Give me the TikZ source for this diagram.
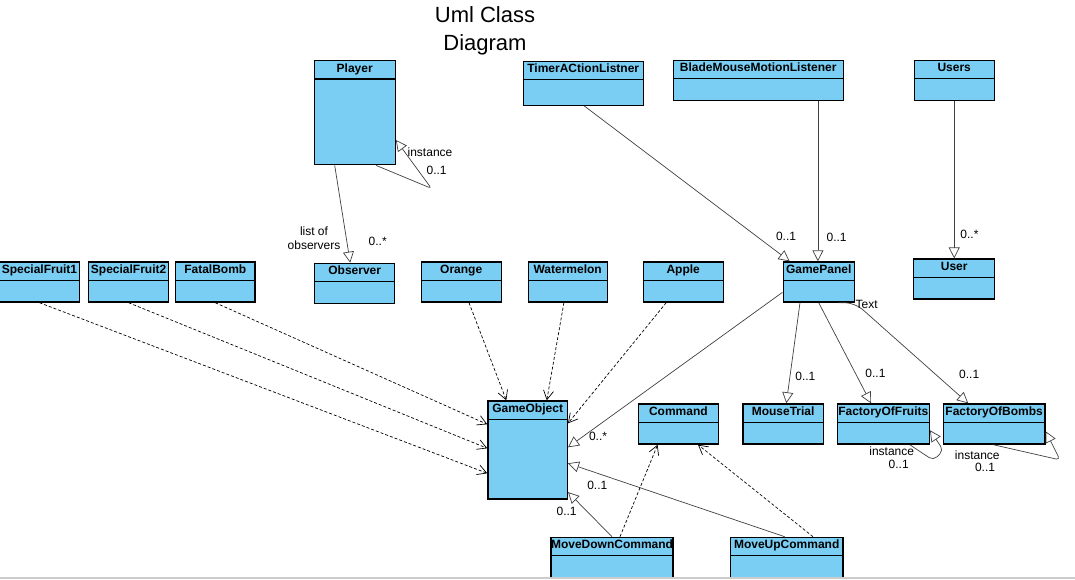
\documentclass[tikz,border=0pt]{standalone}
\usepackage{fontspec}
\setmainfont{Liberation Sans}
\usetikzlibrary{arrows.meta,positioning,calc}
\definecolor{umlblue}{RGB}{122,206,244}

\begin{document}
\begin{tikzpicture}[
    x=1pt, y=-1pt,
    classbox/.style={rectangle, draw=black, line width=1.4pt, fill=umlblue, inner sep=0pt, anchor=north west,
        path picture={\draw[line width=1.4pt] ([yshift=-18.3pt]path picture bounding box.north west) -- ([yshift=-18.3pt]path picture bounding box.north east);}},
    cname/.style={label={[classname]north:#1}},
    classname/.style={anchor=north, inner sep=3.2pt, font=\bfseries\fontsize{12}{14}\selectfont},
    assoc/.style={draw=black!75, line width=0.7pt, -{Triangle[open, length=11pt, width=11pt]}},
    depend/.style={draw=black, line width=0.7pt, dash pattern=on 3pt off 2pt, -{Straight Barb[length=9pt, width=10pt]}},
    mult/.style={font=\fontsize{12}{14}\selectfont, inner sep=0pt}
]
    \useasboundingbox (0,0) rectangle (1075,579);
    \node[font=\fontsize{22}{27.5}\selectfont, align=center] (title) at (485,30.8) {Uml Class\\Diagram};

    % classes
    \node[classbox, cname=Player, minimum width=81pt, minimum height=104pt] (player) at (313.5,60) {};
    \node[classbox, cname=TimerACtionListner, minimum width=120pt, minimum height=44pt] (timer) at (522.5,60.5) {};
    \node[classbox, cname=BladeMouseMotionListener, minimum width=170pt, minimum height=40pt] (blade) at (672.5,59.5) {};
    \node[classbox, cname=Users, minimum width=80pt, minimum height=40pt] (users) at (913.5,59.5) {};
    \node[classbox, cname=User, minimum width=81pt, minimum height=40pt, below=157.5pt of users] (user) {};
    \node[classbox, cname=SpecialFruit1, minimum width=79.5pt, minimum height=40pt] (sfone) at (-1,261.3) {};
    \node[classbox, cname=SpecialFruit2, minimum width=80pt, minimum height=40pt, right=8pt of sfone] (sftwo) {};
    \node[classbox, cname=FatalBomb, minimum width=79.5pt, minimum height=40pt, right=5.5pt of sftwo] (fatalbomb) {};
    \node[classbox, cname=Observer, minimum width=80pt, minimum height=40pt, below=97.3pt of player] (observer) {};
    \node[classbox, cname=Orange, minimum width=80pt, minimum height=40pt] (orange) at (420.5,261.3) {};
    \node[classbox, cname=Watermelon, minimum width=79pt, minimum height=40pt] (watermelon) at (527.5,261.3) {};
    \node[classbox, cname=Apple, minimum width=80pt, minimum height=40pt] (apple) at (642.5,261.3) {};
    \node[classbox, cname=GamePanel, minimum width=71pt, minimum height=40pt] (gamepanel) at (782.5,261.3) {};
    \node[classbox, cname=GameObject, minimum width=79.3pt, minimum height=98pt] (gameobject) at (487.3,400.3) {};
    \node[classbox, cname=Command, minimum width=80.2pt, minimum height=40pt] (command) at (637.6,403.3) {};
    \node[classbox, cname=MouseTrial, minimum width=80.2pt, minimum height=40pt] (mousetrial) at (742.3,403.3) {};
    \node[classbox, cname=FactoryOfFruits, minimum width=92pt, minimum height=40pt] (fruits) at (836.6,403.3) {};
    \node[classbox, cname=FactoryOfBombs, minimum width=101.7pt, minimum height=40pt] (bombs) at (942.6,403.3) {};
    \node[classbox, cname=MoveDownCommand, minimum width=122.2pt, minimum height=40pt] (movedown) at (550.2,536.7) {};
    \node[classbox, cname=MoveUpCommand, minimum width=112.6pt, minimum height=40pt] (moveup) at (729.7,536.7) {};

    % associations
    \draw[assoc] ($(player.south west)+(21.2,0)$) -- ($(observer.north)+(-4.5,0)$);
    \draw[assoc, rounded corners=3pt] ($(player.south east)+(-19.8,0)$) -- ++(55.3,23) -- ($(player.north east)+(0,80)$);
    \draw[assoc] ($(timer.south)+(1,0)$) -- ($(gamepanel.north west)+(7.2,0)$);
    \draw[assoc] ($(blade.south west)+(145.4,0)$) -- ($(gamepanel.north west)+(35.4,0)$);
    \draw[assoc] (users.south) -- (user.north);
    \draw[assoc] ($(gamepanel.north west)+(0,31)$) -- ($(gameobject.north east)+(0,47)$);
    \draw[assoc] ($(gamepanel.south west)+(17.5,0)$) -- ($(mousetrial.north west)+(44,0)$);
    \draw[assoc] ($(gamepanel.south west)+(36.2,0)$) -- ($(fruits.north west)+(34.4,0)$);
    \draw[assoc, rounded corners=10pt] ($(gamepanel.south west)+(56,0)$) -- (gamepanel.south east) -- ($(bombs.north west)+(25.6,0)$);
    \draw[assoc, rounded corners=5pt] ($(fruits.south east)+(-20.3,0)$) -- ++(23.7,15.7) -- ++(10,-10) -- ($(fruits.north east)+(0,27)$);
    \draw[assoc, rounded corners=4pt] ($(bombs.south west)+(50.7,0)$) -- ++(66.7,15.2) -- ($(bombs.north east)+(0,28)$);
    \draw[assoc] (movedown.north) -- ($(gameobject.south east)+(0,-7.6)$);
    \draw[assoc] ($(moveup.north)+(-2,0)$) -- ($(gameobject.north east)+(0,63)$);

    % dependencies
    \draw[depend] (sfone.south) -- ($(gameobject.north west)+(0,73)$);
    \draw[depend] (sftwo.south) -- ($(gameobject.north west)+(0,48)$);
    \draw[depend] (fatalbomb.south) -- ($(gameobject.north west)+(0,24)$);
    \draw[depend] ($(orange.south)+(7.8,0)$) -- ($(gameobject.north west)+(19,0)$);
    \draw[depend] ($(watermelon.south)+(-3.8,0)$) -- ($(gameobject.north west)+(59.5,0)$);
    \draw[depend] ($(apple.south west)+(23.7,0)$) -- ($(gameobject.north east)+(0,23)$);
    \draw[depend] ($(movedown.north)+(8,0)$) -- ($(command.south west)+(20,0)$);
    \draw[depend] ($(moveup.north west)+(83.3,0)$) -- ($(command.south west)+(60.4,0)$);

    % labels
    \node[mult, align=center] (lblobs) at (314,237.8) {list of\\observers};
    \node[mult] (mobs) at (377.7,241.3) {0..*};
    \node[mult] (lblplayer) at (430,152.7) {instance};
    \node[mult] (mplayer) at (436.6,170.3) {0..1};
    \node[mult] (mtimer) at (786,236.7) {0..1};
    \node[mult] (mblade) at (836.6,237.7) {0..1};
    \node[mult] (musers) at (969.4,234.3) {0..*};
    \node[mult, anchor=west] (lbltext) at ($(gamepanel.south east)+(0.5,1.4)$) {Text};
    \node[mult] (mgameobj) at (598,436.7) {0..*};
    \node[mult] (mmouse) at (805.4,376.7) {0..1};
    \node[mult] (mfruits) at (875.4,373.7) {0..1};
    \node[mult] (mbombs) at (969.2,374.7) {0..1};
    \node[mult] (mup) at (597.3,485) {0..1};
    \node[mult] (mdown) at (566.6,511.7) {0..1};
    \node[mult] (lblfruits) at (891.7,451.7) {instance};
    \node[mult] (mfruitsself) at (898.7,464) {0..1};
    \node[mult] (lblbombs) at (977.3,455.7) {instance};
    \node[mult] (mbombsself) at (985,467.7) {0..1};

    \draw[black!20, line width=1.5pt] (0,577.8) -- (1075,577.8);
\end{tikzpicture}
\end{document}
